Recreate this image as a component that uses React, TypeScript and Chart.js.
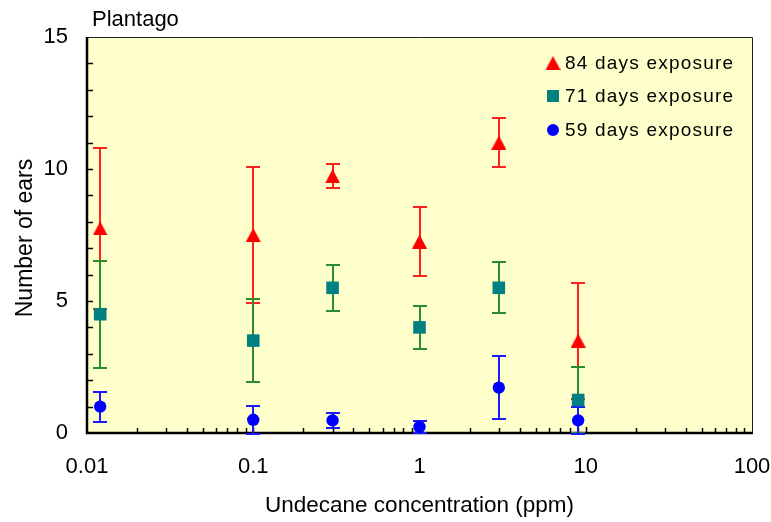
import { useEffect, useRef } from "react";
import { Chart, registerables } from "chart.js";

Chart.register(...registerables);

// Undecane concentration (ppm) for each treatment
const concentrations = [0.012, 0.1, 0.3, 1, 3, 9];

// Mean number of ears and error half-widths per exposure time
const ears84 = [7.75, 7.5, 9.73, 7.25, 11.0, 3.5];
const err84 = [3.05, 2.58, 0.46, 1.32, 0.93, 2.2];
const ears71 = [4.5, 3.5, 5.5, 4.0, 5.5, 1.25];
const err71 = [2.03, 1.56, 0.87, 0.82, 0.96, 1.25];
const ears59 = [1.0, 0.5, 0.48, 0.23, 1.72, 0.48];
const err59 = [0.57, 0.52, 0.28, 0.23, 1.2, 0.5];

const seriesLabels = ["84 days exposure", "71 days exposure", "59 days exposure"];
const xTickValues = [0.01, 0.1, 1, 10, 100];
const xTickLabels = ["0.01", "0.1", "1", "10", "100"];
const yTickValues = [0, 5, 10, 15];
const yTickLabels = ["0", "5", "10", "15"];

const chartTitle = "Plantago";
const xTitle = "Undecane concentration (ppm)";
const yTitle = "Number of ears";

const FONT = "'Liberation Sans', Arial, sans-serif";
const W = 771;
const H = 522;

function makeTriangle(color: string, w: number, h: number): HTMLCanvasElement {
  const c = document.createElement("canvas");
  c.width = w;
  c.height = h;
  const g = c.getContext("2d")!;
  g.fillStyle = color;
  g.beginPath();
  g.moveTo(w / 2, 0);
  g.lineTo(w, h);
  g.lineTo(0, h);
  g.closePath();
  g.fill();
  return c;
}

export default function App() {
  const canvasRef = useRef<HTMLCanvasElement | null>(null);

  useEffect(() => {
    const canvas = canvasRef.current;
    if (!canvas) return;

    const triangle = makeTriangle("#ff0000", 15, 14);

    const series = [
      { label: seriesLabels[0], values: ears84, errors: err84, color: "#ff0000", bar: "#ff2020", style: triangle as any, radius: 7.5 },
      { label: seriesLabels[1], values: ears71, errors: err71, color: "#008080", bar: "#2a8c2a", style: "rect", radius: 8.9 },
      { label: seriesLabels[2], values: ears59, errors: err59, color: "#0000ff", bar: "#1a1aff", style: "circle", radius: 6.2 },
    ];

    const framePlugin = {
      id: "frame",
      beforeDatasetsDraw(chart: any) {
        const { ctx, chartArea: a, scales } = chart;
        ctx.save();
        ctx.fillStyle = "#ffffcc";
        ctx.fillRect(a.left, a.top, a.right - a.left, a.bottom - a.top);

        // y-axis minor ticks, every unit, pointing inward
        ctx.strokeStyle = "#000";
        ctx.lineWidth = 1.5;
        for (let v = 1; v < 15; v++) {
          const y = Math.round(scales.y.getPixelForValue(v)) + 0.5;
          ctx.beginPath();
          ctx.moveTo(a.left, y);
          ctx.lineTo(a.left + 6, y);
          ctx.stroke();
        }
        // x-axis log ticks, pointing inward
        for (let e = -2; e < 2; e++) {
          for (let m = 1; m <= 9; m++) {
            if (e === -2 && m === 1) continue;
            const v = m * Math.pow(10, e);
            const x = Math.round(scales.x.getPixelForValue(v)) + 0.5;
            const len = m === 1 ? 6 : 5;
            ctx.beginPath();
            ctx.moveTo(x, a.bottom);
            ctx.lineTo(x, a.bottom - len);
            ctx.stroke();
          }
        }

        // plot frame
        ctx.lineWidth = 1;
        ctx.strokeStyle = "#222";
        ctx.beginPath();
        ctx.moveTo(a.left, a.top + 0.5);
        ctx.lineTo(a.right + 0.5, a.top + 0.5);
        ctx.lineTo(a.right + 0.5, a.bottom);
        ctx.stroke();
        ctx.lineWidth = 2.5;
        ctx.strokeStyle = "#000";
        ctx.beginPath();
        ctx.moveTo(a.left, a.top);
        ctx.lineTo(a.left, a.bottom);
        ctx.lineTo(a.right + 1, a.bottom);
        ctx.stroke();

        // error bars
        ctx.lineWidth = 2;
        series.forEach((s) => {
          ctx.strokeStyle = s.bar;
          s.values.forEach((v, i) => {
            const x = Math.round(scales.x.getPixelForValue(concentrations[i]));
            const yt = Math.round(scales.y.getPixelForValue(v + s.errors[i]));
            const yb = Math.round(scales.y.getPixelForValue(v - s.errors[i]));
            ctx.beginPath();
            ctx.moveTo(x, yt);
            ctx.lineTo(x, yb);
            ctx.moveTo(x - 7, yt);
            ctx.lineTo(x + 7, yt);
            ctx.moveTo(x - 7, yb);
            ctx.lineTo(x + 7, yb);
            ctx.stroke();
          });
        });
        ctx.restore();
      },
      afterDraw(chart: any) {
        const { ctx, chartArea: a } = chart;
        ctx.save();
        ctx.fillStyle = "#000";
        ctx.textBaseline = "alphabetic";

        // chart title
        ctx.font = `22px ${FONT}`;
        ctx.textAlign = "left";
        ctx.fillText(chartTitle, 92, 26);

        // x-axis title
        ctx.font = `22.5px ${FONT}`;
        ctx.textAlign = "center";
        ctx.fillText(xTitle, (a.left + a.right) / 2, 512);

        // y-axis title
        ctx.save();
        ctx.translate(32, (a.top + a.bottom) / 2 + 3);
        ctx.rotate(-Math.PI / 2);
        ctx.font = `23px ${FONT}`;
        ctx.textAlign = "center";
        ctx.fillText(yTitle, 0, 0);
        ctx.restore();

        // legend inside the plot
        const rows = [63, 96, 130];
        ctx.font = `19px ${FONT}`;
        (ctx as any).letterSpacing = "1.2px";
        ctx.textAlign = "left";
        ctx.textBaseline = "middle";
        series.forEach((s, i) => {
          const cx = 553;
          const cy = rows[i];
          ctx.fillStyle = s.color;
          if (i === 0) {
            ctx.drawImage(triangle, cx - 7.5, cy - 7);
          } else if (i === 1) {
            ctx.fillRect(cx - 6, cy - 6, 12, 12);
          } else {
            ctx.beginPath();
            ctx.arc(cx, cy, 6, 0, Math.PI * 2);
            ctx.fill();
          }
          ctx.fillStyle = "#000";
          ctx.fillText(s.label, 565, cy + 1);
        });
        ctx.restore();
      },
    };

    const chart = new Chart(canvas, {
      type: "scatter",
      data: {
        datasets: series.map((s) => ({
          label: s.label,
          data: concentrations.map((x, i) => ({ x, y: s.values[i] })),
          pointStyle: s.style,
          pointRadius: s.radius,
          pointHoverRadius: s.radius,
          backgroundColor: s.color,
          borderColor: s.color,
          borderWidth: 0,
          showLine: false,
        })),
      },
      options: {
        responsive: false,
        animation: false,
        devicePixelRatio: 1,
        layout: { padding: { top: 37, right: 19, left: 0, bottom: 0 } },
        plugins: {
          legend: { display: false },
          tooltip: { enabled: false },
          title: { display: false },
        },
        scales: {
          x: {
            type: "logarithmic",
            min: 0.01,
            max: 100,
            grid: { display: false, drawTicks: false },
            border: { display: false },
            afterBuildTicks: (scale: any) => {
              scale.ticks = xTickValues.map((value) => ({ value }));
            },
            afterFit: (scale: any) => {
              scale.height = H - 433;
              scale.paddingLeft = 0;
              scale.paddingRight = 0;
            },
            ticks: {
              autoSkip: false,
              maxRotation: 0,
              padding: 21,
              color: "#000",
              font: { family: FONT, size: 22 },
              callback: (_v: any, i: number) => xTickLabels[i],
            },
          },
          y: {
            type: "linear",
            min: 0,
            max: 15,
            grid: { display: false, drawTicks: false },
            border: { display: false },
            afterBuildTicks: (scale: any) => {
              scale.ticks = yTickValues.map((value) => ({ value }));
            },
            afterFit: (scale: any) => {
              scale.width = 87;
              scale.paddingTop = 0;
              scale.paddingBottom = 0;
            },
            ticks: {
              padding: 19,
              color: "#000",
              font: { family: FONT, size: 22 },
              callback: (_v: any, i: number) => yTickLabels[i],
            },
          },
        },
      },
      plugins: [framePlugin],
    });

    return () => chart.destroy();
  }, []);

  return (
    <div style={{ position: "absolute", left: 0, top: 0, width: W, height: H, background: "#fff" }}>
      <canvas ref={canvasRef} width={W} height={H} style={{ display: "block", width: W, height: H }} />
    </div>
  );
}
